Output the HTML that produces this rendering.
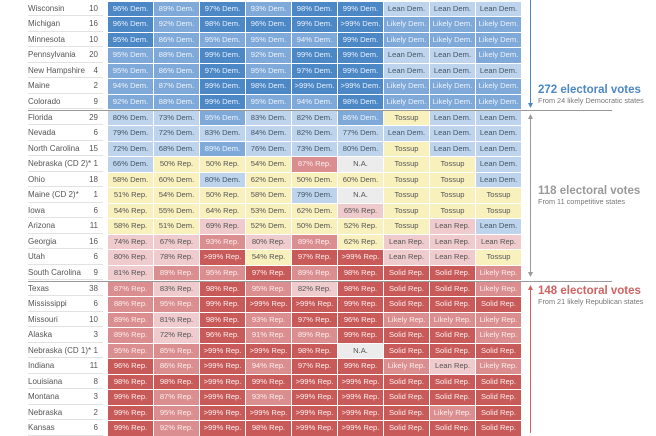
<!DOCTYPE html>
<html><head><meta charset="utf-8"><style>
body{margin:0;width:656px;height:433px;overflow:hidden;background:#fff;font-family:"Liberation Sans",sans-serif;position:relative}
.r{position:absolute;left:0;height:14.5px;width:525px}
.n{position:absolute;left:28px;width:75px;top:0;height:14.5px;line-height:14.5px;font-size:8px;color:#555;border-bottom:1px solid #e2e2e2;box-sizing:border-box;white-space:nowrap}
.e{position:absolute;left:81px;width:17px;text-align:right;top:0;line-height:14.5px;font-size:8px;color:#555}
.c{position:absolute;left:108px;top:0;display:flex;gap:1px}
.c span{display:block;width:45px;height:14.5px;line-height:14.5px;text-align:center;font-size:7.6px}
.d3{background:#4c87c6;color:#e8f0fa}.d2{background:#7ea9d8;color:#eef3fa}.d1{background:#bed4ec;color:#445566}
.t{background:#f8f0bd;color:#555}.na{background:#ececec;color:#555}
.r1{background:#efcbcd;color:#555}.r2{background:#da8e8f;color:#fbeeee}.r3{background:#c85a59;color:#fbeeee}
.hl{position:absolute;left:28px;width:584px;height:1px;background:#999}
.big{position:absolute;left:538px;font-size:11.5px;font-weight:bold}
.sub{position:absolute;left:538px;font-size:7.3px;color:#777}
</style></head><body>

<div class="r" style="top:1.75px"><div class="n">Wisconsin</div><div class="e">10</div><div class="c"><span class="d3">96% Dem.</span><span class="d2">89% Dem.</span><span class="d3">97% Dem.</span><span class="d2">93% Dem.</span><span class="d3">98% Dem.</span><span class="d3">99% Dem.</span><span class="d1">Lean Dem.</span><span class="d1">Lean Dem.</span><span class="d1">Lean Dem.</span></div></div>
<div class="r" style="top:17.25px"><div class="n">Michigan</div><div class="e">16</div><div class="c"><span class="d3">96% Dem.</span><span class="d2">92% Dem.</span><span class="d3">98% Dem.</span><span class="d3">96% Dem.</span><span class="d3">99% Dem.</span><span class="d3">&gt;99% Dem.</span><span class="d2">Likely Dem.</span><span class="d2">Likely Dem.</span><span class="d2">Likely Dem.</span></div></div>
<div class="r" style="top:32.75px"><div class="n">Minnesota</div><div class="e">10</div><div class="c"><span class="d3">95% Dem.</span><span class="d2">86% Dem.</span><span class="d2">95% Dem.</span><span class="d2">95% Dem.</span><span class="d2">94% Dem.</span><span class="d3">99% Dem.</span><span class="d2">Likely Dem.</span><span class="d2">Likely Dem.</span><span class="d2">Likely Dem.</span></div></div>
<div class="r" style="top:48.25px"><div class="n">Pennsylvania</div><div class="e">20</div><div class="c"><span class="d2">95% Dem.</span><span class="d2">88% Dem.</span><span class="d3">99% Dem.</span><span class="d2">92% Dem.</span><span class="d3">99% Dem.</span><span class="d3">99% Dem.</span><span class="d1">Lean Dem.</span><span class="d1">Lean Dem.</span><span class="d2">Likely Dem.</span></div></div>
<div class="r" style="top:63.75px"><div class="n">New Hampshire</div><div class="e">4</div><div class="c"><span class="d2">95% Dem.</span><span class="d2">86% Dem.</span><span class="d3">97% Dem.</span><span class="d2">95% Dem.</span><span class="d3">97% Dem.</span><span class="d3">99% Dem.</span><span class="d1">Lean Dem.</span><span class="d1">Lean Dem.</span><span class="d1">Lean Dem.</span></div></div>
<div class="r" style="top:79.25px"><div class="n">Maine</div><div class="e">2</div><div class="c"><span class="d2">94% Dem.</span><span class="d2">87% Dem.</span><span class="d3">99% Dem.</span><span class="d3">98% Dem.</span><span class="d3">&gt;99% Dem.</span><span class="d3">&gt;99% Dem.</span><span class="d2">Likely Dem.</span><span class="d2">Likely Dem.</span><span class="d2">Likely Dem.</span></div></div>
<div class="r" style="top:94.75px"><div class="n">Colorado</div><div class="e">9</div><div class="c"><span class="d2">92% Dem.</span><span class="d2">88% Dem.</span><span class="d3">99% Dem.</span><span class="d2">95% Dem.</span><span class="d2">94% Dem.</span><span class="d3">98% Dem.</span><span class="d2">Likely Dem.</span><span class="d2">Likely Dem.</span><span class="d2">Likely Dem.</span></div></div>

<div class="r" style="top:110.75px"><div class="n">Florida</div><div class="e">29</div><div class="c"><span class="d1">80% Dem.</span><span class="d1">73% Dem.</span><span class="d2">95% Dem.</span><span class="d1">83% Dem.</span><span class="d1">82% Dem.</span><span class="d2">86% Dem.</span><span class="t">Tossup</span><span class="d1">Lean Dem.</span><span class="d1">Lean Dem.</span></div></div>
<div class="r" style="top:126.25px"><div class="n">Nevada</div><div class="e">6</div><div class="c"><span class="d1">79% Dem.</span><span class="d1">72% Dem.</span><span class="d1">83% Dem.</span><span class="d1">84% Dem.</span><span class="d1">82% Dem.</span><span class="d1">77% Dem.</span><span class="d1">Lean Dem.</span><span class="d1">Lean Dem.</span><span class="d1">Lean Dem.</span></div></div>
<div class="r" style="top:141.75px"><div class="n">North Carolina</div><div class="e">15</div><div class="c"><span class="d1">72% Dem.</span><span class="d1">68% Dem.</span><span class="d2">89% Dem.</span><span class="d1">76% Dem.</span><span class="d1">73% Dem.</span><span class="d1">80% Dem.</span><span class="t">Tossup</span><span class="d1">Lean Dem.</span><span class="d1">Lean Dem.</span></div></div>
<div class="r" style="top:157.25px"><div class="n">Nebraska (CD 2)*</div><div class="e">1</div><div class="c"><span class="d1">66% Dem.</span><span class="t">50% Rep.</span><span class="t">50% Rep.</span><span class="t">54% Dem.</span><span class="r2">87% Rep.</span><span class="na">N.A.</span><span class="t">Tossup</span><span class="t">Tossup</span><span class="d1">Lean Dem.</span></div></div>
<div class="r" style="top:172.75px"><div class="n">Ohio</div><div class="e">18</div><div class="c"><span class="t">58% Dem.</span><span class="t">60% Dem.</span><span class="d1">80% Dem.</span><span class="t">62% Dem.</span><span class="t">50% Dem.</span><span class="t">60% Dem.</span><span class="t">Tossup</span><span class="t">Tossup</span><span class="d1">Lean Dem.</span></div></div>
<div class="r" style="top:188.25px"><div class="n">Maine (CD 2)*</div><div class="e">1</div><div class="c"><span class="t">51% Rep.</span><span class="t">54% Dem.</span><span class="t">50% Rep.</span><span class="t">58% Dem.</span><span class="d1">79% Dem.</span><span class="na">N.A.</span><span class="t">Tossup</span><span class="t">Tossup</span><span class="t">Tossup</span></div></div>
<div class="r" style="top:203.75px"><div class="n">Iowa</div><div class="e">6</div><div class="c"><span class="t">54% Rep.</span><span class="t">55% Dem.</span><span class="t">64% Rep.</span><span class="t">53% Dem.</span><span class="t">62% Dem.</span><span class="r1">65% Rep.</span><span class="t">Tossup</span><span class="t">Tossup</span><span class="t">Tossup</span></div></div>
<div class="r" style="top:219.25px"><div class="n">Arizona</div><div class="e">11</div><div class="c"><span class="t">58% Rep.</span><span class="t">51% Dem.</span><span class="r1">69% Rep.</span><span class="t">52% Dem.</span><span class="t">50% Dem.</span><span class="t">52% Rep.</span><span class="t">Tossup</span><span class="r1">Lean Rep.</span><span class="d1">Lean Dem.</span></div></div>
<div class="r" style="top:234.75px"><div class="n">Georgia</div><div class="e">16</div><div class="c"><span class="r1">74% Rep.</span><span class="r1">67% Rep.</span><span class="r2">93% Rep.</span><span class="r1">80% Rep.</span><span class="r2">89% Rep.</span><span class="t">62% Rep.</span><span class="r1">Lean Rep.</span><span class="r1">Lean Rep.</span><span class="r1">Lean Rep.</span></div></div>
<div class="r" style="top:250.25px"><div class="n">Utah</div><div class="e">6</div><div class="c"><span class="r1">80% Rep.</span><span class="r1">78% Rep.</span><span class="r3">&gt;99% Rep.</span><span class="t">54% Rep.</span><span class="r3">97% Rep.</span><span class="r3">&gt;99% Rep.</span><span class="r1">Lean Rep.</span><span class="r1">Lean Rep.</span><span class="t">Tossup</span></div></div>
<div class="r" style="top:265.75px"><div class="n">South Carolina</div><div class="e">9</div><div class="c"><span class="r1">81% Rep.</span><span class="r2">89% Rep.</span><span class="r2">95% Rep.</span><span class="r3">97% Rep.</span><span class="r2">89% Rep.</span><span class="r3">98% Rep.</span><span class="r3">Solid Rep.</span><span class="r3">Solid Rep.</span><span class="r2">Likely Rep.</span></div></div>

<div class="r" style="top:281.75px"><div class="n">Texas</div><div class="e">38</div><div class="c"><span class="r2">87% Rep.</span><span class="r1">83% Rep.</span><span class="r3">98% Rep.</span><span class="r2">95% Rep.</span><span class="r1">82% Rep.</span><span class="r3">98% Rep.</span><span class="r3">Solid Rep.</span><span class="r3">Solid Rep.</span><span class="r2">Likely Rep.</span></div></div>
<div class="r" style="top:297.25px"><div class="n">Mississippi</div><div class="e">6</div><div class="c"><span class="r2">88% Rep.</span><span class="r2">95% Rep.</span><span class="r3">99% Rep.</span><span class="r3">&gt;99% Rep.</span><span class="r3">&gt;99% Rep.</span><span class="r3">99% Rep.</span><span class="r3">Solid Rep.</span><span class="r3">Solid Rep.</span><span class="r3">Solid Rep.</span></div></div>
<div class="r" style="top:312.75px"><div class="n">Missouri</div><div class="e">10</div><div class="c"><span class="r2">89% Rep.</span><span class="r1">81% Rep.</span><span class="r3">98% Rep.</span><span class="r2">93% Rep.</span><span class="r3">97% Rep.</span><span class="r3">96% Rep.</span><span class="r2">Likely Rep.</span><span class="r2">Likely Rep.</span><span class="r2">Likely Rep.</span></div></div>
<div class="r" style="top:328.25px"><div class="n">Alaska</div><div class="e">3</div><div class="c"><span class="r2">89% Rep.</span><span class="r1">72% Rep.</span><span class="r3">96% Rep.</span><span class="r2">91% Rep.</span><span class="r2">89% Rep.</span><span class="r3">99% Rep.</span><span class="r3">Solid Rep.</span><span class="r3">Solid Rep.</span><span class="r2">Likely Rep.</span></div></div>
<div class="r" style="top:343.75px"><div class="n">Nebraska (CD 1)*</div><div class="e">1</div><div class="c"><span class="r2">95% Rep.</span><span class="r2">85% Rep.</span><span class="r3">&gt;99% Rep.</span><span class="r3">&gt;99% Rep.</span><span class="r3">98% Rep.</span><span class="na">N.A.</span><span class="r3">Solid Rep.</span><span class="r3">Solid Rep.</span><span class="r3">Solid Rep.</span></div></div>
<div class="r" style="top:359.25px"><div class="n">Indiana</div><div class="e">11</div><div class="c"><span class="r3">96% Rep.</span><span class="r2">86% Rep.</span><span class="r3">&gt;99% Rep.</span><span class="r2">94% Rep.</span><span class="r3">97% Rep.</span><span class="r3">99% Rep.</span><span class="r2">Likely Rep.</span><span class="r1">Lean Rep.</span><span class="r2">Likely Rep.</span></div></div>
<div class="r" style="top:374.75px"><div class="n">Louisiana</div><div class="e">8</div><div class="c"><span class="r3">98% Rep.</span><span class="r3">98% Rep.</span><span class="r3">&gt;99% Rep.</span><span class="r3">99% Rep.</span><span class="r3">&gt;99% Rep.</span><span class="r3">&gt;99% Rep.</span><span class="r3">Solid Rep.</span><span class="r3">Solid Rep.</span><span class="r3">Solid Rep.</span></div></div>
<div class="r" style="top:390.25px"><div class="n">Montana</div><div class="e">3</div><div class="c"><span class="r3">99% Rep.</span><span class="r2">87% Rep.</span><span class="r3">&gt;99% Rep.</span><span class="r2">93% Rep.</span><span class="r3">&gt;99% Rep.</span><span class="r3">&gt;99% Rep.</span><span class="r3">Solid Rep.</span><span class="r3">Solid Rep.</span><span class="r3">Solid Rep.</span></div></div>
<div class="r" style="top:405.75px"><div class="n">Nebraska</div><div class="e">2</div><div class="c"><span class="r3">99% Rep.</span><span class="r2">95% Rep.</span><span class="r3">&gt;99% Rep.</span><span class="r3">&gt;99% Rep.</span><span class="r3">&gt;99% Rep.</span><span class="r3">&gt;99% Rep.</span><span class="r3">Solid Rep.</span><span class="r2">Likely Rep.</span><span class="r3">Solid Rep.</span></div></div>
<div class="r" style="top:421.25px"><div class="n">Kansas</div><div class="e">6</div><div class="c"><span class="r3">99% Rep.</span><span class="r2">92% Rep.</span><span class="r3">&gt;99% Rep.</span><span class="r3">98% Rep.</span><span class="r3">&gt;99% Rep.</span><span class="r3">&gt;99% Rep.</span><span class="r3">Solid Rep.</span><span class="r3">Solid Rep.</span><span class="r3">Solid Rep.</span></div></div>

<div class="hl" style="top:110px"></div>
<div class="hl" style="top:281px"></div>

<svg width="656" height="433" style="position:absolute;left:0;top:0" xmlns="http://www.w3.org/2000/svg">
<line x1="530.5" y1="0" x2="530.5" y2="107" stroke="#4c87c6" stroke-width="1"/>
<path d="M528 103 L530.5 108 L533 103 Z" fill="#4c87c6"/>
<line x1="530.5" y1="115" x2="530.5" y2="276" stroke="#999" stroke-width="1"/>
<path d="M528 119 L530.5 114 L533 119 Z" fill="#999"/>
<path d="M528 272 L530.5 277 L533 272 Z" fill="#999"/>
<line x1="530.5" y1="286" x2="530.5" y2="433" stroke="#d06262" stroke-width="1"/>
<path d="M528 290 L530.5 285 L533 290 Z" fill="#d06262"/>
</svg>

<div class="big" style="top:84px;color:#4c87c6">272 electoral votes</div>
<div class="sub" style="top:96px">From 24 likely Democratic states</div>
<div class="big" style="top:185px;color:#999">118 electoral votes</div>
<div class="sub" style="top:197px">From 11 competitive states</div>
<div class="big" style="top:285px;color:#d06262">148 electoral votes</div>
<div class="sub" style="top:297px">From 21 likely Republican states</div>
</body></html>
